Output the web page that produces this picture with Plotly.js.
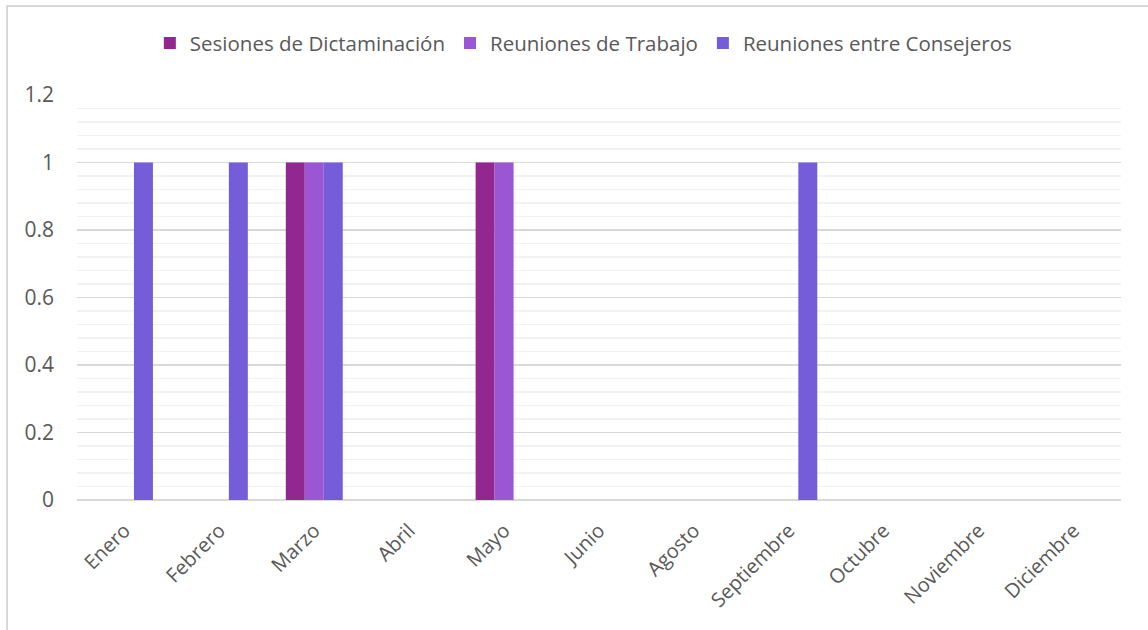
<!DOCTYPE html>
<html>
<head>
<meta charset="utf-8">
<script src="https://cdn.plot.ly/plotly-3.0.1.min.js"></script>
<style>
  html, body { margin: 0; padding: 0; background: #fff; }
  #wrap { position: relative; width: 1148px; height: 630px; overflow: hidden; }
  #chart { position: absolute; left: 0; top: 0; width: 1148px; height: 630px; }
  #frame { position: absolute; left: 6px; top: 5px; width: 1200px; height: 700px;
           border-left: 2px solid #d9d9d9; border-top: 2px solid #d9d9d9; pointer-events: none; }
</style>
</head>
<body>
<div id="wrap">
  <div id="chart"></div>
  <div id="frame"></div>
</div>
<script>
const months = ["Enero", "Febrero", "Marzo", "Abril", "Mayo", "Junio", "Agosto",
                "Septiembre", "Octubre", "Noviembre", "Diciembre"];
const seriesNames = ["Sesiones de Dictaminación", "Reuniones de Trabajo", "Reuniones entre Consejeros"];
const sesionesDictaminacion = [0, 0, 1, 0, 1, 0, 0, 0, 0, 0, 0];
const reunionesTrabajo      = [0, 0, 1, 0, 1, 0, 0, 0, 0, 0, 0];
const reunionesConsejeros   = [1, 1, 1, 0, 0, 0, 0, 1, 0, 0, 0];
const colors = ["#92278F", "#9B57D3", "#755DD9"];
const values = [sesionesDictaminacion, reunionesTrabajo, reunionesConsejeros];

const traces = values.map((v, i) => ({
  type: "bar",
  name: seriesNames[i],
  x: months,
  y: v,
  marker: { color: colors[i] },
  hoverinfo: "x+y+name"
}));

const FAM = "Open Sans, sans-serif";
const font = { family: FAM, size: 20, color: "#595959" };

const layout = {
  width: 1148,
  height: 630,
  margin: { l: 77, r: 27, t: 95, b: 130 },
  paper_bgcolor: "rgba(0,0,0,0)",
  plot_bgcolor: "#ffffff",
  font: font,
  barmode: "group",
  bargap: 0.4,
  bargroupgap: 0,
  showlegend: true,
  legend: {
    orientation: "h",
    x: 0.485, xanchor: "center",
    y: 1.128, yanchor: "middle",
    font: { family: FAM, size: 20.5, color: "#595959" },
    itemwidth: 30,
    traceorder: "normal"
  },
  xaxis: {
    type: "category",
    tickangle: -45,
    showgrid: false,
    showline: false,
    ticks: "",
    ticklabelstandoff: 14,
    tickfont: { family: FAM, size: 20, color: "#595959" },
    fixedrange: true
  },
  yaxis: {
    range: [0, 1.2],
    dtick: 0.2,
    tick0: 0,
    showgrid: true,
    gridcolor: "#d9d9d9",
    gridwidth: 1.5,
    zeroline: true,
    zerolinecolor: "#d9d9d9",
    zerolinewidth: 2,
    showline: false,
    ticks: "",
    ticklabelstandoff: 22,
    tickfont: { family: FAM, size: 21, color: "#595959" },
    minor: { dtick: 0.04, showgrid: true, gridcolor: "#f2f2f2", gridwidth: 1.5 },
    fixedrange: true
  }
};

Plotly.newPlot("chart", traces, layout, { displayModeBar: false, staticPlot: true });
</script>
</body>
</html>
